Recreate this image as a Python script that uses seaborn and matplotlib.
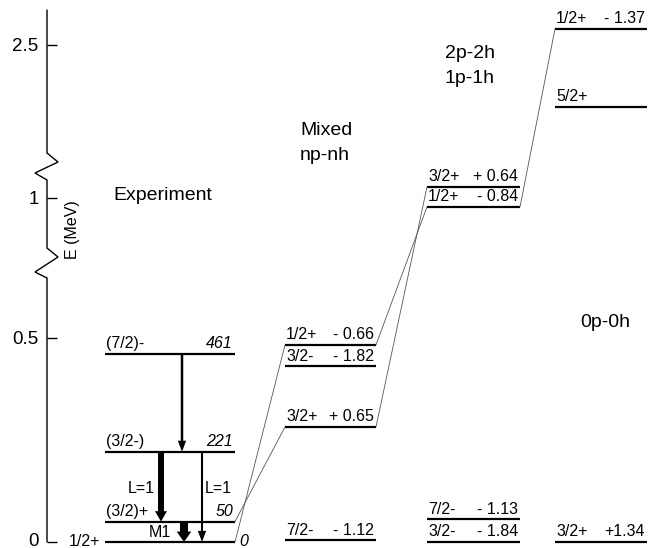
import numpy as np
import pandas as pd
import matplotlib
matplotlib.use("Agg")
import matplotlib.pyplot as plt
import matplotlib.transforms as mtransforms
import seaborn as sns

# ---- level data (energies in MeV) ----
exp_E = [0.0, 0.050, 0.221, 0.461]
exp_jp = ["1/2+", "(3/2)+", "(3/2-)", "(7/2)-"]
exp_keV = ["0", "50", "221", "461"]

mix_E = [0.004, 0.282, 0.431, 0.483]
mix_jp = ["7/2-", "3/2+", "3/2-", "1/2+"]
mix_val = ["- 1.12", "+ 0.65", "- 1.82", "- 0.66"]

ph2_E = [0.0, 0.056, 0.978, 1.027]
ph2_jp = ["3/2-", "7/2-", "1/2+", "3/2+"]
ph2_val = ["- 1.84", "- 1.13", "- 0.84", "+ 0.64"]

ph0_E = [0.0, 2.348, 2.539]
ph0_jp = ["3/2+", "5/2+", "1/2+"]
ph0_val = ["+1.34", "", "- 1.37"]

# gamma transitions between experimental levels (keV)
gamma_from = [461, 221, 221, 50]
gamma_to = [221, 50, 0, 0]
gamma_tags = ["", "L=1", "L=1", "M1"]

ytick_vals = [0, 0.5, 1, 2.5]
ytick_labels = ["0", "0.5", "1", "2.5"]

# ---- styling ----
sns.set_theme(style="white")
plt.rcParams["font.family"] = ["Liberation Sans", "DejaVu Sans"]
plt.rcParams["text.color"] = "black"
plt.rcParams["ytick.color"] = "black"

W, H = 648, 548
fig = plt.figure(figsize=(W / 100, H / 100), dpi=100)
ax = fig.add_axes([47 / W, 6 / H, (W - 47) / W, 532 / H])

# broken energy axis: three linear pieces joined by compressed gaps
E_knots = np.array([-1.0, 0.647, 0.877, 1.044, 2.235, 5.0])
d_knots = np.array([-408.0, 264.0, 294.0, 362.0, 389.0, 1517.0])


def fwd(e):
    return np.interp(e, E_knots, d_knots)


def inv(d):
    return np.interp(d, d_knots, E_knots)


ax.set_yscale("function", functions=(fwd, inv))
ax.set_xlim(47, 648)
ax.set_ylim(0, inv(532))

# column extents (x)
cols = {
    "exp": (105, 235, exp_E),
    "mix": (285, 376, mix_E),
    "ph2": (427, 520, ph2_E),
    "ph0": (555, 647, ph0_E),
}

# level lines
rows = []
for name, (x0, x1, Es) in cols.items():
    for i, e in enumerate(Es):
        rows.append(dict(level=f"{name}{i}", x=x0, E=e))
        rows.append(dict(level=f"{name}{i}", x=x1, E=e))
levels = pd.DataFrame(rows)
sns.lineplot(data=levels, x="x", y="E", units="level", estimator=None,
             sort=False, color="black", lw=1.6, legend=False, ax=ax,
             clip_on=False, solid_capstyle="butt")

# correspondence lines between columns
links = [(("exp", 0), ("mix", 3)), (("exp", 1), ("mix", 1)),
         (("mix", 3), ("ph2", 2)), (("mix", 1), ("ph2", 3)),
         (("ph2", 2), ("ph0", 2))]
lrows = []
for k, ((ca, ia), (cb, ib)) in enumerate(links):
    lrows.append(dict(link=k, x=cols[ca][1], E=cols[ca][2][ia]))
    lrows.append(dict(link=k, x=cols[cb][0], E=cols[cb][2][ib]))
sns.lineplot(data=pd.DataFrame(lrows), x="x", y="E", units="link",
             estimator=None, sort=False, color="#555555", lw=0.6,
             legend=False, ax=ax, clip_on=False)

lab_fs = 11.5


def label_levels(key, left, right, italic=False, skip_first=False):
    x0, x1, Es = cols[key]
    for i, (e, l, r) in enumerate(zip(Es, left, right)):
        if skip_first and i == 0:
            continue
        ax.annotate(l, (x0 + 1, e), xytext=(0, 4), textcoords="offset points",
                    ha="left", va="baseline", fontsize=lab_fs)
        ax.annotate(r, (x1 - 2, e), xytext=(0, 4), textcoords="offset points",
                    ha="right", va="baseline", fontsize=lab_fs,
                    style="italic" if italic else "normal")


label_levels("exp", exp_jp, exp_keV, italic=True, skip_first=True)
label_levels("mix", mix_jp, mix_val)
label_levels("ph2", ph2_jp, ph2_val)
label_levels("ph0", ph0_jp, ph0_val)

# ground state labels sit beside the line
ax.text(100, exp_E[0], exp_jp[0], ha="right", va="center", fontsize=lab_fs)
ax.text(239, exp_E[0], exp_keV[0], ha="left", va="center", fontsize=lab_fs,
        style="italic")

# gamma arrows: x position, tail width, head width, head length (points)
arrow_style = [(182, 1.8, 6.0, 8.0), (161, 4.3, 8.6, 7.5),
               (202, 1.5, 6.0, 8.0), (184, 5.8, 10.5, 7.5)]
keV_to_E = dict(zip([int(v) for v in exp_keV], exp_E))
for f, t, (xa, tw, hw, hl) in zip(gamma_from, gamma_to, arrow_style):
    ax.annotate("", xy=(xa, keV_to_E[t]), xytext=(xa, keV_to_E[f]),
                arrowprops=dict(
                    arrowstyle=f"simple,tail_width={tw},head_width={hw},head_length={hl}",
                    fc="black", ec="black", lw=0, shrinkA=0, shrinkB=0,
                    mutation_scale=1), annotation_clip=False)

# multipolarity tags
ax.text(155, inv(54), gamma_tags[1], ha="right", va="center", fontsize=lab_fs)
ax.text(232, inv(54), gamma_tags[2], ha="right", va="center", fontsize=lab_fs)
ax.text(171, inv(10), gamma_tags[3], ha="right", va="center", fontsize=lab_fs)

# column headings
head_fs = 14
ax.text(163, inv(542 - 195), "Experiment", ha="center", va="center", fontsize=head_fs)
ax.text(300, inv(542 - 130), "Mixed", ha="left", va="center", fontsize=head_fs)
ax.text(300, inv(542 - 155), "np-nh", ha="left", va="center", fontsize=head_fs)
ax.text(445, inv(542 - 53), "2p-2h", ha="left", va="center", fontsize=head_fs)
ax.text(445, inv(542 - 78), "1p-1h", ha="left", va="center", fontsize=head_fs)
ax.text(580, inv(542 - 322), "0p-0h", ha="left", va="center", fontsize=head_fs)

# vertical axis line with break marks
axis_x = [47, 47, 58, 35, 47, 47, 58, 35, 47, 47]
axis_d = [532, 389, 380, 369, 362, 294, 285, 270, 264, 0]
ax.plot(axis_x, inv(np.array(axis_d, dtype=float)), color="black", lw=1.0,
        clip_on=False, solid_joinstyle="miter")

for s in ax.spines.values():
    s.set_visible(False)
ax.set_xticks([])
ax.set_xlabel("")
ax.set_ylabel("")
ax.set_yticks(ytick_vals)
ax.set_yticklabels(ytick_labels)
ax.yaxis.set_minor_locator(matplotlib.ticker.NullLocator())
ax.tick_params(axis="y", direction="in", length=7.5, width=1.0, pad=6,
               labelsize=13.5, left=True, colors="black")

# lift the bottom tick label slightly so it stays inside the canvas
lift = mtransforms.ScaledTranslation(0, 3 / 100, fig.dpi_scale_trans)
for lbl in ax.get_yticklabels():
    if lbl.get_text() == "0":
        lbl.set_transform(lbl.get_transform() + lift)

ax.text(72, inv(542 - 230), "E (MeV)", rotation=90, ha="center", va="center",
        fontsize=11.5)

fig.savefig("out.png", dpi=100)
